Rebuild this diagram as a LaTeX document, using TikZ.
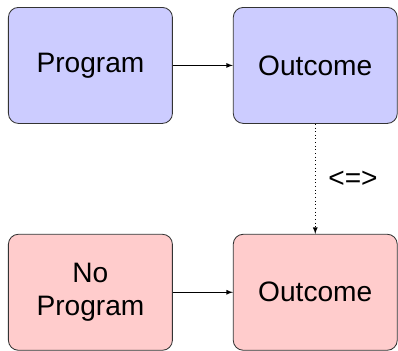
\documentclass[tikz,border=0pt]{standalone}
\usepackage{fontspec}
\setmainfont{Liberation Sans}
\usetikzlibrary{positioning}
\usetikzlibrary{arrows}

\begin{document}
\begin{tikzpicture}[>=latex, node distance=1.5cm,
  box/.style = {draw=black!80, rounded corners=0.25cm, align=center,
    minimum width=4.1cm, minimum height=2.9cm, line width=0.6pt,
    font=\fontsize{20}{24}\selectfont},
  treated/.style = {box, fill=blue!20},
  control/.style = {box, fill=red!20}]

\node[treated] (prog) {Program};
\node[treated, right=of prog] (out1) {Outcome};
\node[control, below=2.75cm of out1] (out2) {Outcome};
\node[control, left=of out2] (noprog) {No\\Program};

\draw[->, line width=0.6pt] (prog) -- (out1);
\draw[->, line width=0.6pt] (noprog) -- (out2);
\draw[->, dotted, line width=0.6pt] (out1) -- node[right, xshift=0.2cm, font=\fontsize{20}{24}\selectfont] {<=>} (out2);

\useasboundingbox ([shift={(-0.2,0.175)}]prog.north west) rectangle ++(9.95,-8.725);
\end{tikzpicture}
\end{document}
